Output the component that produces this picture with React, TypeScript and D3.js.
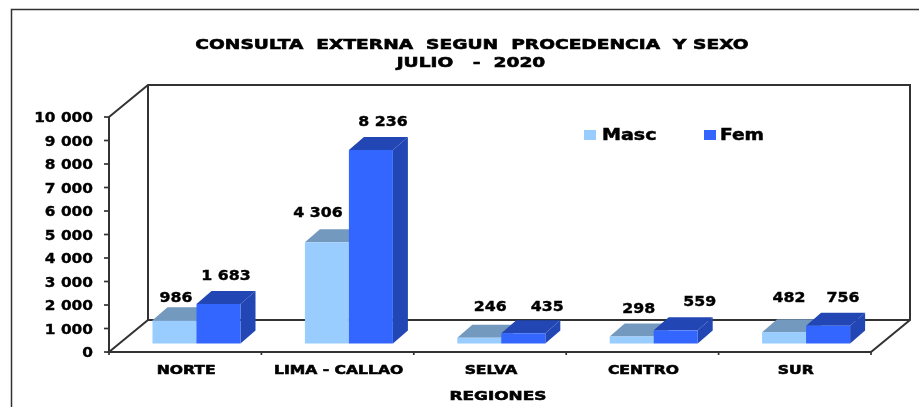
import React from "react";
import * as d3 from "d3";

const categories = ["NORTE", "LIMA - CALLAO", "SELVA", "CENTRO", "SUR"];
const masc = [986, 4306, 246, 298, 482];
const fem = [1683, 8236, 435, 559, 756];
const yTicks = [0, 1000, 2000, 3000, 4000, 5000, 6000, 7000, 8000, 9000, 10000];
const titleLines = ["CONSULTA  EXTERNA  SEGUN  PROCEDENCIA  Y SEXO", "JULIO   -  2020"];
const xTitle = "REGIONES";

// layout only: label nudges relative to each bar's top
const mascLabelDy = [-23, -30, -32, -28, -35];
const mascLabelDx = [1.5, -9, 11, 7, 5];
const femLabelDy = [-29, -29, -27, -29, -29];
const femLabelDx = [12.5, 17, 29, 29, 20];

const W = 919, H = 407;
const FONT = "'DejaVu Sans', sans-serif";
const DEPTH_X = 39, DEPTH_Y = 32;
const BAR_DX = 15, BAR_DY = 13;
const BAR_W = 44;
const x = d3.scaleBand<string>().domain(categories).range([109, 871]);
const y = d3.scaleLinear().domain([0, 10000]).range([352, 117]);
const fmt = d3.formatLocale({ thousands: " ", grouping: [3], decimal: ".", currency: ["", ""] }).format(",");
const BASE = 343.5;
const barH = (v: number) => y(0) - y(v);

const LINE = "#333";

function Bar({ bx, v, front, top, side }: { bx: number; v: number; front: string; top: string; side: string }) {
  const t = BASE - barH(v);
  return (
    <g>
      <polygon points={`${bx},${t} ${bx + BAR_DX},${t - BAR_DY} ${bx + BAR_W + BAR_DX},${t - BAR_DY} ${bx + BAR_W},${t}`} fill={top} />
      <polygon points={`${bx + BAR_W},${t} ${bx + BAR_W + BAR_DX},${t - BAR_DY} ${bx + BAR_W + BAR_DX},${BASE - BAR_DY} ${bx + BAR_W},${BASE}`} fill={side} />
      <rect x={bx} y={t} width={BAR_W} height={BASE - t} fill={front} />
    </g>
  );
}

// horizontally stretched text, scaled about its anchor point
function T({ x: tx, y: ty, sx, size, anchor = "middle", heavy = 0.6, children }: { x: number; y: number; sx: number; size: number; anchor?: string; heavy?: number; children: string }) {
  return (
    <text transform={`translate(${tx},${ty}) scale(${sx},1)`} textAnchor={anchor} fontSize={size} fill="#000" stroke="#000" strokeWidth={heavy} style={{ whiteSpace: "pre" }}>
      {children}
    </text>
  );
}

export default function App() {
  const x0 = x.range()[0], x1 = x.range()[1], y0 = y(0), yT = y(10000);
  return (
    <svg width={W} height={H} viewBox={`0 0 ${W} ${H}`} style={{ position: "absolute", left: 0, top: 0, background: "#fff" }} fontFamily={FONT} fontWeight="bold">
      <defs>
        <filter id="soft" x="-2%" y="-2%" width="104%" height="104%"><feGaussianBlur stdDeviation="0.45" /></filter>
      </defs>
      <g filter="url(#soft)">
        <path d={`M11.5,${H} V9.5 H${W}`} fill="none" stroke={LINE} strokeWidth={1.5} />
        <path d={`M${x0},${yT} L${x0 + DEPTH_X},${yT - DEPTH_Y} H${x1 + DEPTH_X} V${y0 - DEPTH_Y} L${x1},${y0} H${x0} L${x0 + DEPTH_X},${y0 - DEPTH_Y} H${x1 + DEPTH_X}`} fill="none" stroke={LINE} strokeWidth={2} />
        <path d={`M${x0 + DEPTH_X},${yT - DEPTH_Y} V${y0 - DEPTH_Y}`} stroke={LINE} strokeWidth={2} />
        <path d={`M${x0},${yT} V${y0}`} stroke={LINE} strokeWidth={2} />
        {yTicks.map((t) => (
          <g key={t}>
            <line x1={x0 - 5} x2={x0} y1={y(t)} y2={y(t)} stroke={LINE} strokeWidth={1.7} />
            <T x={93} y={y(t) + 5} sx={1.14} size={13.5} anchor="end" heavy={0.35}>{fmt(t)}</T>
          </g>
        ))}
        {[...categories.map((c) => x(c)!), x1].map((p, i) => (
          <line key={i} x1={p} x2={p} y1={y0} y2={y0 + 3} stroke={LINE} strokeWidth={1.7} />
        ))}
        {categories.map((c, i) => {
          const bx = x(c)! + 43.5;
          return (
            <g key={c}>
              <Bar bx={bx} v={masc[i]} front="#99ccff" top="#7399bf" side="#7399bf" />
              <Bar bx={bx + BAR_W} v={fem[i]} front="#3366ff" top="#2146b4" side="#2146b4" />
              <T x={bx + BAR_W / 2 + mascLabelDx[i]} y={BASE - barH(masc[i]) + mascLabelDy[i] + 5} sx={1.17} size={13.5} heavy={0.4}>{fmt(masc[i])}</T>
              <T x={bx + BAR_W * 1.5 + femLabelDx[i] - 5} y={BASE - barH(fem[i]) + femLabelDy[i] + 5} sx={1.17} size={13.5} heavy={0.4}>{fmt(fem[i])}</T>
            </g>
          );
        })}
        {categories.map((c) => (
          <T key={c} x={x(c)! + x.bandwidth() / 2 + 1} y={373.5} sx={1.2} size={13}>{c}</T>
        ))}
        <T x={498} y={399.5} sx={1.3} size={13}>{xTitle}</T>
        {titleLines.map((t, i) => (
          <T key={t} x={i ? 471 : 472} y={49 + i * 18} sx={1.33} size={14}>{t}</T>
        ))}
        <rect x={584} y={130} width={12} height={10} fill="#99ccff" />
        <T x={602} y={140} sx={1.23} size={15.5} anchor="start" heavy={0.5}>Masc</T>
        <rect x={704} y={130} width={12} height={10} fill="#3366ff" />
        <T x={720} y={140} sx={1.2} size={15.5} anchor="start" heavy={0.5}>Fem</T>
      </g>
    </svg>
  );
}
